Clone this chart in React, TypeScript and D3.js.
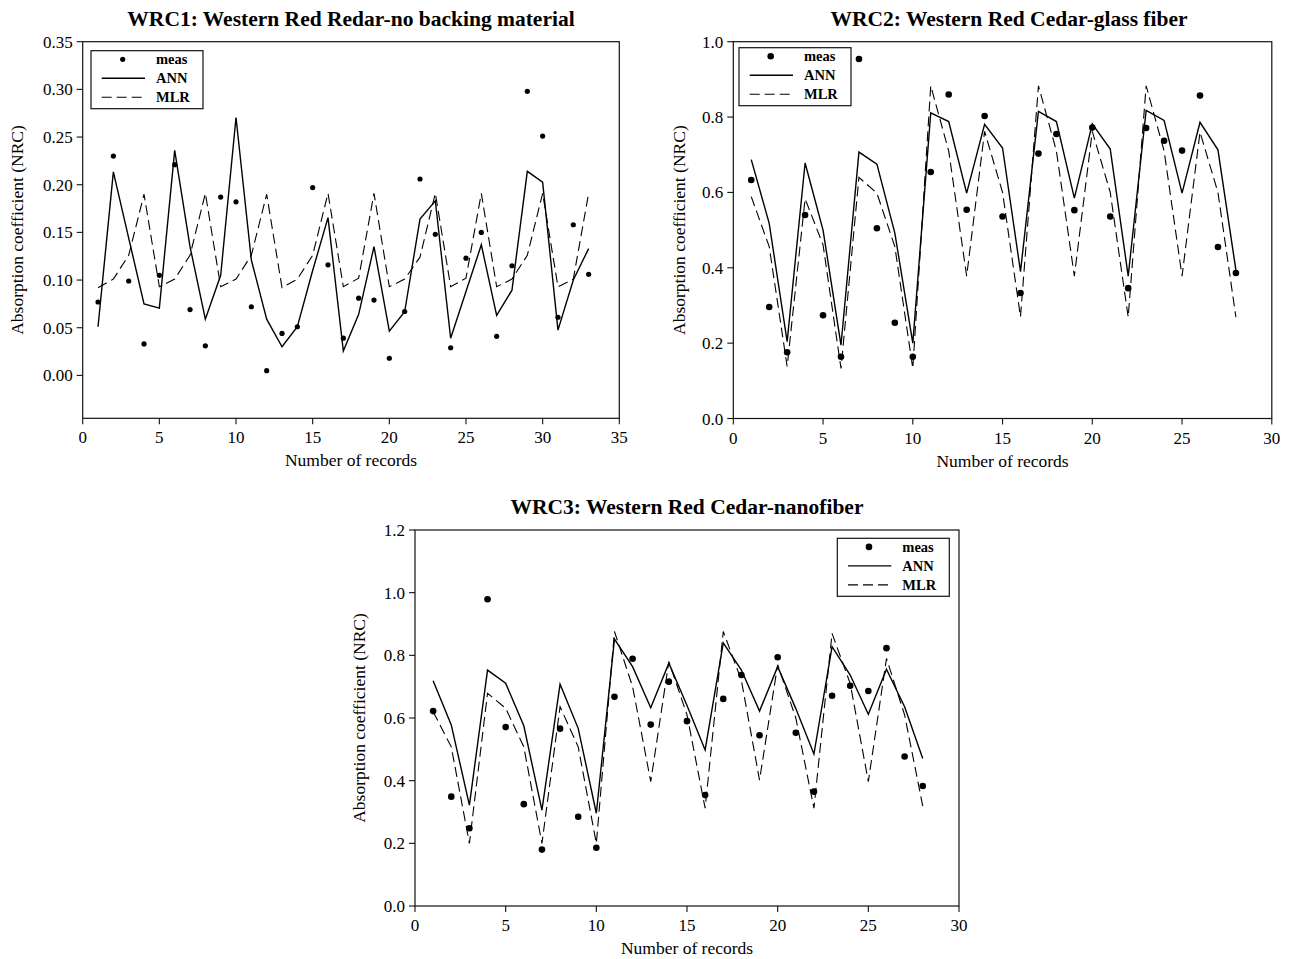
import React from "react";
import * as d3 from "d3";

// ---------------- data ----------------
const wrc1Meas = [
  0.077, 0.23, 0.099, 0.033, 0.105, 0.221, 0.069, 0.031, 0.187, 0.182, 0.072,
  0.005, 0.044, 0.051, 0.197, 0.116, 0.039, 0.081, 0.079, 0.018, 0.067, 0.206,
  0.148, 0.029, 0.123, 0.15, 0.041, 0.115, 0.298, 0.251, 0.061, 0.158, 0.106,
];
const wrc1Ann = [
  0.051, 0.2135, 0.144, 0.075, 0.0705, 0.236, 0.135, 0.059, 0.105, 0.2705,
  0.121, 0.059, 0.03, 0.051, 0.11, 0.1655, 0.0255, 0.064, 0.135, 0.0465,
  0.0667, 0.164, 0.183, 0.039, 0.088, 0.137, 0.063, 0.0894, 0.214, 0.2026,
  0.0475, 0.1, 0.133,
];
const wrc1Mlr = [
  0.092, 0.101, 0.126, 0.19, 0.093, 0.101, 0.126, 0.191, 0.093, 0.101, 0.126,
  0.19, 0.092, 0.101, 0.126, 0.191, 0.093, 0.102, 0.191, 0.093, 0.101, 0.124,
  0.191, 0.093, 0.102, 0.191, 0.093, 0.101, 0.126, 0.191, 0.093, 0.101, 0.191,
];

const wrc2Meas = [
  0.633, 0.296, 0.176, 0.54, 0.274, 0.164, 0.954, 0.505, 0.254, 0.164, 0.654,
  0.86, 0.554, 0.803, 0.536, 0.333, 0.703, 0.755, 0.553, 0.772, 0.536, 0.346,
  0.771, 0.737, 0.711, 0.857, 0.455, 0.386,
];
const wrc2Ann = [
  0.687, 0.518, 0.204, 0.678, 0.5, 0.195, 0.707, 0.675, 0.492, 0.2, 0.811,
  0.788, 0.598, 0.781, 0.718, 0.39, 0.815, 0.788, 0.585, 0.782, 0.715, 0.378,
  0.818, 0.791, 0.598, 0.786, 0.713, 0.394,
];
const wrc2Mlr = [
  0.589, 0.456, 0.138, 0.583, 0.461, 0.133, 0.64, 0.598, 0.456, 0.133, 0.883,
  0.71, 0.378, 0.762, 0.6, 0.27, 0.883, 0.71, 0.378, 0.762, 0.6, 0.269, 0.883,
  0.71, 0.378, 0.76, 0.6, 0.269,
];

const wrc3Meas = [
  0.622, 0.349, 0.248, 0.979, 0.571, 0.325, 0.18, 0.566, 0.285, 0.186, 0.668,
  0.789, 0.579, 0.716, 0.59, 0.354, 0.661, 0.737, 0.545, 0.794, 0.553, 0.365,
  0.671, 0.703, 0.686, 0.823, 0.477, 0.383,
];
const wrc3Ann = [
  0.719, 0.578, 0.322, 0.753, 0.711, 0.575, 0.306, 0.708, 0.567, 0.296, 0.852,
  0.764, 0.633, 0.775, 0.64, 0.498, 0.84, 0.753, 0.622, 0.764, 0.63, 0.485,
  0.828, 0.737, 0.612, 0.756, 0.636, 0.471,
];
const wrc3Mlr = [
  0.62, 0.508, 0.2, 0.679, 0.631, 0.508, 0.2, 0.636, 0.508, 0.2, 0.876, 0.7,
  0.397, 0.78, 0.61, 0.312, 0.876, 0.72, 0.402, 0.77, 0.6, 0.312, 0.87, 0.71,
  0.397, 0.79, 0.61, 0.319,
];

const legendLabels = ["meas", "ANN", "MLR"];
const xLabel = "Number of records";
const yLabel = "Absorption coefficient (NRC)";

const FONT = "'Liberation Serif', 'Times New Roman', Times, serif";

const panels = [
  {
    title: "WRC1: Western Red Redar-no backing material",
    meas: wrc1Meas, ann: wrc1Ann, mlr: wrc1Mlr,
    xDomain: [0, 35], yDomain: [-0.045, 0.35], yMax: 0.35, yStep: 0.05, yFmt: ".2f",
    left: 82.7, right: 619.3, top: 41.7, bottom: 418.3,
    titleX: 351, yLabelX: 17, legend: [91, 50.7], r: 2.6,
  },
  {
    title: "WRC2: Western Red Cedar-glass fiber",
    meas: wrc2Meas, ann: wrc2Ann, mlr: wrc2Mlr,
    xDomain: [0, 30], yDomain: [0, 1.0], yMax: 1.0, yStep: 0.2, yFmt: ".1f",
    left: 733.3, right: 1271.8, top: 41.7, bottom: 418.5,
    titleX: 1009, yLabelX: 679, legend: [739, 47.7], r: 3.3,
  },
  {
    title: "WRC3: Western Red Cedar-nanofiber",
    meas: wrc3Meas, ann: wrc3Ann, mlr: wrc3Mlr,
    xDomain: [0, 30], yDomain: [0, 1.2], yMax: 1.2, yStep: 0.2, yFmt: ".1f",
    left: 415, right: 959, top: 530, bottom: 906,
    titleX: 687, yLabelX: 359, legend: [837.3, 538.3], r: 3.3,
  },
];

function Panel({ cfg }: { cfg: any }) {
  const x = d3.scaleLinear().domain(cfg.xDomain).range([cfg.left, cfg.right]);
  const y = d3.scaleLinear().domain(cfg.yDomain).range([cfg.bottom, cfg.top]);

  const line = d3
    .line<number>()
    .x((_, i) => x(i + 1))
    .y((d) => y(d));

  const xTicks = d3.range(cfg.xDomain[0], cfg.xDomain[1] + 0.001, 5);
  const yTicks = d3.range(0, cfg.yMax + cfg.yStep / 10, cfg.yStep);
  const fmt = d3.format(cfg.yFmt);

  const [lx, ly] = cfg.legend;
  const rows = [ly + 8.6, ly + 27.6, ly + 46.6];

  return (
    <g>
      <text
        x={cfg.titleX}
        y={cfg.top - 16}
        textAnchor="middle"
        fontSize={21.5}
        fontWeight="bold"
        fontFamily={FONT}
      >
        {cfg.title}
      </text>

      {/* frame */}
      <rect
        x={cfg.left}
        y={cfg.top}
        width={cfg.right - cfg.left}
        height={cfg.bottom - cfg.top}
        fill="none"
        stroke="#111"
        strokeWidth={1.2}
      />

      {/* x axis */}
      {xTicks.map((t) => (
        <g key={"x" + t}>
          <line x1={x(t)} x2={x(t)} y1={cfg.bottom} y2={cfg.bottom + 6} stroke="#111" strokeWidth={1.1} />
          <text x={x(t)} y={cfg.bottom + 25} textAnchor="middle" fontSize={17} fontFamily={FONT}>
            {t}
          </text>
        </g>
      ))}
      <text
        x={(cfg.left + cfg.right) / 2}
        y={cfg.bottom + 48}
        textAnchor="middle"
        fontSize={17.5}
        fontFamily={FONT}
      >
        {xLabel}
      </text>

      {/* y axis */}
      {yTicks.map((t) => (
        <g key={"y" + t}>
          <line x1={cfg.left - 6} x2={cfg.left} y1={y(t)} y2={y(t)} stroke="#111" strokeWidth={1.1} />
          <text x={cfg.left - 10} y={y(t) + 6} textAnchor="end" fontSize={17} fontFamily={FONT}>
            {fmt(t)}
          </text>
        </g>
      ))}
      <text
        transform={`translate(${cfg.yLabelX},${(cfg.top + cfg.bottom) / 2}) rotate(-90)`}
        textAnchor="middle"
        dominantBaseline="central"
        fontSize={17.5}
        fontFamily={FONT}
      >
        {yLabel}
      </text>

      {/* series */}
      <path d={line(cfg.mlr) || ""} fill="none" stroke="#000" strokeWidth={1.1} strokeDasharray="10,5" />
      <path d={line(cfg.ann) || ""} fill="none" stroke="#000" strokeWidth={1.4} />
      {cfg.meas.map((v: number, i: number) => (
        <circle key={"m" + i} cx={x(i + 1)} cy={y(v)} r={cfg.r} fill="#000" />
      ))}

      {/* legend */}
      <rect x={lx} y={ly} width={112} height={58} fill="#fff" stroke="#111" strokeWidth={1.2} />
      <circle cx={lx + 31.7} cy={rows[0]} r={cfg.r} fill="#000" />
      <line x1={lx + 10.7} x2={lx + 54} y1={rows[1]} y2={rows[1]} stroke="#000" strokeWidth={1.4} />
      <line
        x1={lx + 10.7}
        x2={lx + 54}
        y1={rows[2]}
        y2={rows[2]}
        stroke="#000"
        strokeWidth={1.1}
        strokeDasharray="10,5"
      />
      {legendLabels.map((lab, i) => (
        <text key={lab} x={lx + 65} y={rows[i] + 5} fontSize={14.5} fontWeight="bold" fontFamily={FONT}>
          {lab}
        </text>
      ))}
    </g>
  );
}

export default function App() {
  return (
    <svg
      width={1293}
      height={959}
      style={{ position: "absolute", left: 0, top: 0, background: "#fff" }}
    >
      <rect width={1293} height={959} fill="#fff" />
      {panels.map((p) => (
        <Panel key={p.title} cfg={p} />
      ))}
    </svg>
  );
}
